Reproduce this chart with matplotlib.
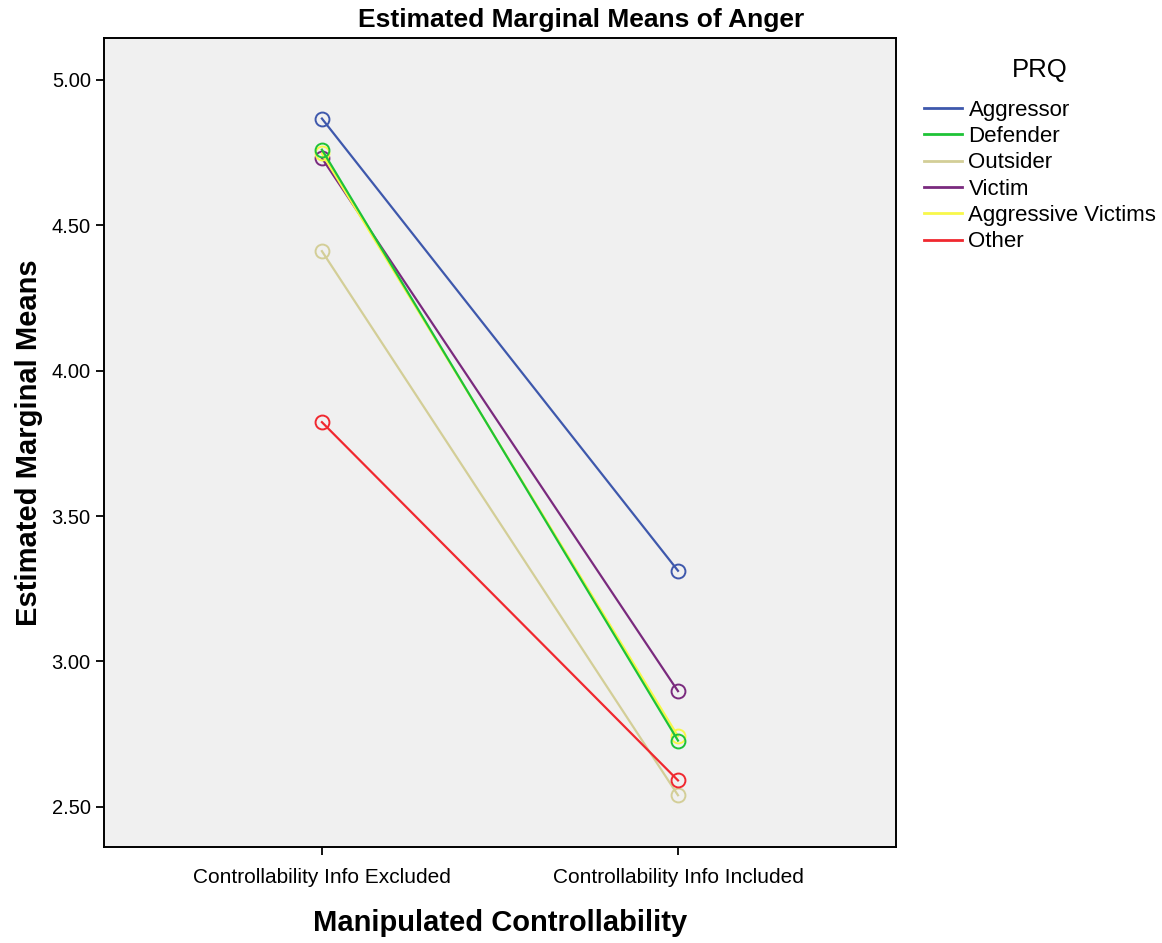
import matplotlib.pyplot as plt

plt.rcParams['font.family'] = ['Liberation Sans', 'DejaVu Sans']

categories = ['Controllability Info Excluded', 'Controllability Info Included']
groups = ['Aggressor', 'Defender', 'Outsider', 'Victim', 'Aggressive Victims', 'Other']
aggressor = [4.867, 3.312]
defender = [4.760, 2.728]
outsider = [4.411, 2.540]
victim = [4.731, 2.898]
aggressive_victims = [4.747, 2.743]
other = [3.823, 2.591]
yticks = [2.50, 3.00, 3.50, 4.00, 4.50, 5.00]

series = [aggressor, defender, outsider, victim, aggressive_victims, other]
colors = ['#3e58ac', '#1ec337', '#d3ce97', '#7a2a7e', '#f8f84a', '#f0282f']

fig = plt.figure(figsize=(11.62, 9.43), dpi=100)
ax = fig.add_axes([0.0895, 0.1018, 0.6815, 0.8579])
ax.set_facecolor('#f0f0f0')

x = list(range(len(categories)))
# draw order chosen so overlapping lines look like the original
order = [2, 5, 3, 4, 1, 0]
lines = {}
for i in order:
    ln, = ax.plot(x, series[i], color=colors[i], lw=1.6, marker='o', ms=10,
                  mfc='none', mec=colors[i], mew=1.4, label=groups[i])
    lines[i] = ln

ax.set_xlim(-0.612, 1.612)
ax.set_ylim(2.362, 5.144)
ax.set_xticks(x)
ax.set_xticklabels(categories, fontsize=15)
ax.set_yticks(yticks)
ax.set_yticklabels(['%.2f' % v for v in yticks], fontsize=14.5)
ax.tick_params(direction='out', length=6, width=1.3, color='black')
ax.tick_params(axis='x', pad=9)
for s in ax.spines.values():
    s.set_linewidth(1.4)

# title is centred on the whole figure, not the axes
fig.text(0.5, 0.979, 'Estimated Marginal Means of Anger', fontsize=19,
         fontweight='bold', ha='center', va='center')
ax.set_xlabel('Manipulated Controllability', fontsize=21, fontweight='bold', labelpad=16)
ax.set_ylabel('Estimated Marginal Means', fontsize=21, fontweight='bold', labelpad=6)

leg = fig.legend([lines[i] for i in range(len(groups))], groups, loc='upper left',
                 bbox_to_anchor=(0.778, 0.96), frameon=False, fontsize=16,
                 title='PRQ', title_fontsize=18.5, handlelength=1.7,
                 handletextpad=0.3, labelspacing=0.24)
leg._legend_box.sep = 13
for h in leg.legend_handles:
    h.set_marker('')
    h.set_linewidth(2)

fig.savefig('out.png', dpi=100)
